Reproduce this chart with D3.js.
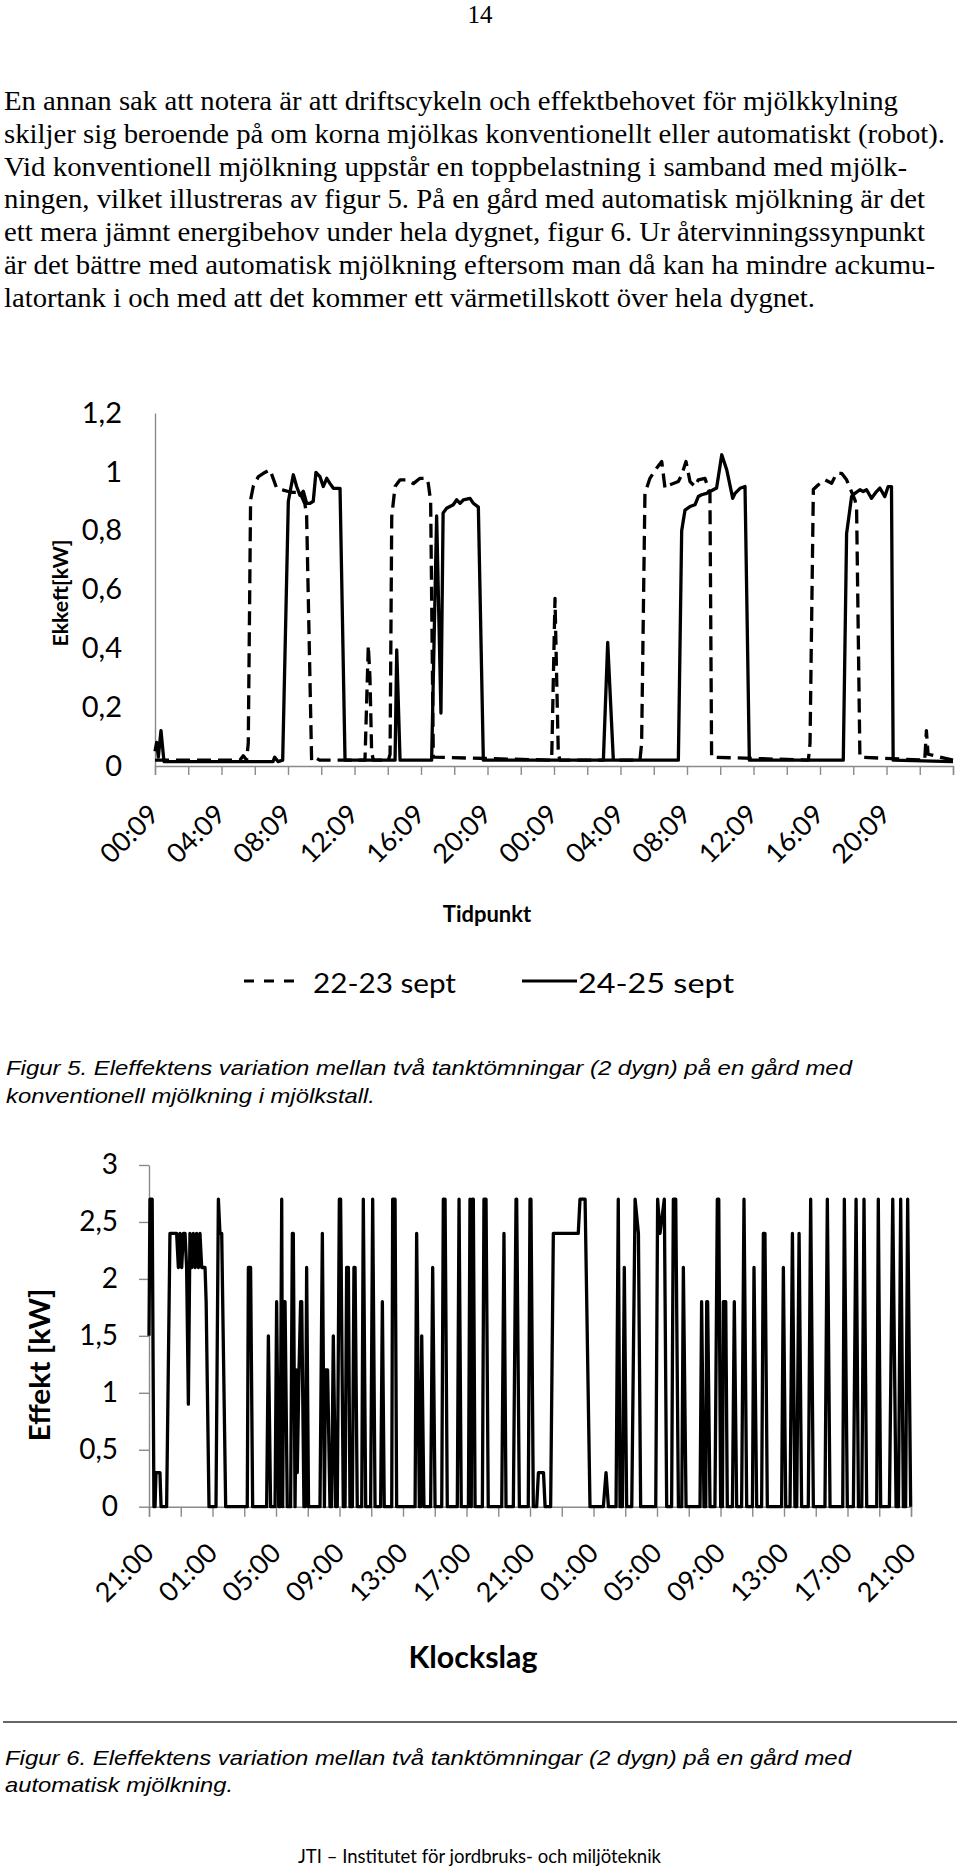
<!DOCTYPE html>
<html>
<head>
<meta charset="utf-8">
<script src="https://cdn.jsdelivr.net/npm/d3@7"></script>
<style>
  body { margin: 0; background: #fff; }
  svg { display: block; }
  .serif { font-family: 'Liberation Serif', 'Times New Roman', serif; }
  .cap { font-family: 'Liberation Sans', Arial, sans-serif; font-style: italic; }
  .calib { font-family: Lato, 'Open Sans', sans-serif; }
</style>
</head>
<body>
<svg id="page" width="960" height="1869"></svg>
<script>
// ---- text of the page ----
const bodyLines = [
  'En annan sak att notera är att driftscykeln och effektbehovet för mjölkkylning',
  'skiljer sig beroende på om korna mjölkas konventionellt eller automatiskt (robot).',
  'Vid konventionell mjölkning uppstår en toppbelastning i samband med mjölk-',
  'ningen, vilket illustreras av figur 5. På en gård med automatisk mjölkning är det',
  'ett mera jämnt energibehov under hela dygnet, figur 6. Ur återvinningssynpunkt',
  'är det bättre med automatisk mjölkning eftersom man då kan ha mindre ackumu-',
  'latortank i och med att det kommer ett värmetillskott över hela dygnet.'
];
const caption5 = ['Figur 5. Eleffektens variation mellan två tanktömningar (2 dygn) på en gård med',
                  'konventionell mjölkning i mjölkstall.'];
const caption6 = ['Figur 6. Eleffektens variation mellan två tanktömningar (2 dygn) på en gård med',
                  'automatisk mjölkning.'];

// ---- figur 5: hours after 00:09, kW ----
const fig5Labels = ['00:09', '04:09', '08:09', '12:09', '16:09', '20:09',
                    '00:09', '04:09', '08:09', '12:09', '16:09', '20:09'];
const fig5YTicks = [0, 0.2, 0.4, 0.6, 0.8, 1, 1.2];
const fig5Series = ['22-23 sept', '24-25 sept'];

const sept2223 = [
  [0, 0.02], [5.11, 0.02], [5.31, 0.035], [5.51, 0.02], [5.61, 0.077], [5.75, 0.905], [5.91, 0.95],
  [6.22, 0.984], [6.52, 0.995], [6.92, 1.007], [7.32, 0.944], [7.72, 0.938], [8.02, 0.933], [8.32, 0.93],
  [8.72, 0.93], [9.02, 0.89], [9.12, 0.85], [9.42, 0.02], [9.6, 0.03], [9.9, 0.02],
  [12.63, 0.02], [12.83, 0.41], [12.93, 0.3], [13.03, 0.05], [13.13, 0.02],
  [14.04, 0.02], [14.14, 0.04], [14.24, 0.848], [14.44, 0.95], [14.74, 0.973], [15.14, 0.973],
  [15.54, 0.96], [15.94, 0.978], [16.34, 0.978], [16.44, 0.96], [16.58, 0.9], [16.74, 0.03],
  [23.86, 0.02], [24.06, 0.57], [24.16, 0.3], [24.26, 0.04], [24.36, 0.02],
  [29.17, 0.02], [29.27, 0.077], [29.47, 0.927], [29.77, 0.978], [30.17, 1.012], [30.48, 1.035],
  [30.68, 0.944], [30.98, 0.956], [31.48, 0.967], [31.68, 0.99], [31.94, 1.035], [32.18, 0.967],
  [32.48, 0.95], [32.68, 0.973], [33.08, 0.978], [33.38, 0.927], [33.48, 0.03],
  [39.3, 0.02], [39.4, 0.077], [39.6, 0.94], [39.9, 0.956], [40.3, 0.973], [40.7, 0.961],
  [41.0, 0.995], [41.3, 0.995], [41.6, 0.973], [42.1, 0.905], [42.2, 0.88], [42.4, 0.03],
  [46.3, 0.02], [46.4, 0.12], [46.5, 0.04], [48, 0.02]
];

const sept2425 = [
  [0, 0.05], [0.1, 0.08], [0.2, 0.03], [0.36, 0.12], [0.54, 0.015], [7.1, 0.015], [7.2, 0.03],
  [7.4, 0.015], [7.68, 0.02], [8.02, 0.9], [8.32, 0.99], [8.52, 0.95], [8.72, 0.92], [8.92, 0.934],
  [9.12, 0.893], [9.32, 0.893], [9.52, 0.9], [9.68, 0.998], [9.92, 0.984], [10.12, 0.95],
  [10.33, 0.978], [10.53, 0.96], [10.73, 0.944], [11.13, 0.944], [11.43, 0.02],
  [14.44, 0.02], [14.54, 0.395], [14.74, 0.02],
  [16.64, 0.02], [16.94, 0.85], [17.2, 0.18], [17.33, 0.86], [17.54, 0.876], [17.94, 0.888],
  [18.15, 0.905], [18.35, 0.893], [18.55, 0.905], [18.95, 0.91], [19.15, 0.893], [19.45, 0.88], [19.75, 0.02],
  [26.97, 0.02], [27.23, 0.42], [27.57, 0.02],
  [31.48, 0.02], [31.68, 0.8], [31.88, 0.87], [32.18, 0.882], [32.48, 0.888], [32.68, 0.916],
  [32.88, 0.922], [33.18, 0.927], [33.58, 0.939], [33.78, 0.945], [34.09, 1.058], [34.39, 1.007],
  [34.75, 0.91], [34.89, 0.927], [35.19, 0.944], [35.49, 0.95], [35.75, 0.02],
  [41.4, 0.02], [41.6, 0.79], [41.9, 0.916], [42.1, 0.927], [42.4, 0.939], [42.6, 0.933], [42.8, 0.939],
  [43.1, 0.91], [43.4, 0.933], [43.6, 0.945], [43.9, 0.916], [44.1, 0.95], [44.3, 0.95], [44.4, 0.02],
  [48, 0.015]
];

// ---- figur 6: hours after 21:00, kW ----
const fig6Labels = ['21:00', '01:00', '05:00', '09:00', '13:00', '17:00', '21:00',
                    '01:00', '05:00', '09:00', '13:00', '17:00', '21:00'];
const fig6YTicks = [0, 0.5, 1, 1.5, 2, 2.5, 3];

const robot = [
  [0, 1.5], [0.06, 2.7], [0.2, 2.7], [0.31, 0], [0.38, 0], [0.44, 0.3], [0.69, 0.3], [0.76, 0],
  [1.11, 0], [1.32, 2.4], [1.74, 2.4], [1.85, 2.1], [1.95, 2.4], [2.06, 2.1], [2.16, 2.4], [2.27, 2.4],
  [2.37, 2.1], [2.48, 0.9], [2.58, 2.4], [2.69, 2.1], [2.79, 2.4], [2.9, 2.1], [3.0, 2.4], [3.11, 2.1],
  [3.21, 2.4], [3.32, 2.1], [3.53, 2.1], [3.6, 1.8], [3.78, 0],
  [4.22, 0], [4.37, 2.7], [4.47, 2.4], [4.58, 2.4], [4.83, 0],
  [6.19, 0], [6.26, 2.1], [6.4, 2.1], [6.53, 0],
  [7.41, 0], [7.52, 1.5], [7.66, 0], [7.94, 0], [8.04, 1.8], [8.17, 0], [8.25, 0], [8.36, 2.7], [8.42, 0],
  [8.5, 1.8], [8.57, 1.8], [8.71, 0], [8.92, 0], [9.03, 2.4], [9.09, 2.4], [9.2, 0], [9.28, 1.2],
  [9.34, 0.3], [9.45, 1.2], [9.55, 1.8], [9.62, 1.8], [9.76, 0], [9.85, 0], [9.93, 2.1], [10.05, 0],
  [10.77, 0], [10.92, 2.4], [11.05, 0], [11.12, 1.2], [11.25, 1.2], [11.4, 0], [11.5, 0],
  [11.61, 1.5], [11.76, 0], [11.86, 0], [11.99, 2.7], [12.07, 2.7], [12.24, 0], [12.35, 0],
  [12.45, 2.1], [12.56, 2.1], [12.66, 0], [12.81, 0], [12.91, 2.1], [12.98, 2.1], [13.12, 0],
  [13.4, 0], [13.5, 2.7], [13.65, 0], [13.96, 0], [14.09, 2.7], [14.24, 0], [14.59, 0], [14.7, 1.8],
  [14.82, 0], [15.29, 0], [15.35, 2.7], [15.5, 2.7], [15.6, 0],
  [16.76, 0], [16.86, 2.4], [17.03, 0], [17.11, 0], [17.18, 1.5], [17.32, 0], [17.74, 0], [17.87, 2.1],
  [18.02, 0], [18.44, 0], [18.54, 2.7], [18.65, 2.7], [18.79, 0], [19.42, 0], [19.53, 2.7], [19.67, 0],
  [20.12, 0], [20.22, 2.7], [20.3, 0], [20.36, 2.7], [20.43, 2.7], [20.54, 0],
  [21.0, 0], [21.1, 2.7], [21.23, 2.7], [21.37, 0], [22.22, 0], [22.36, 2.4], [22.49, 0],
  [22.95, 0], [23.12, 2.7], [23.16, 2.7], [23.33, 0], [23.89, 0], [24.0, 2.7], [24.06, 2.7], [24.21, 0],
  [24.42, 0], [24.53, 0.3], [24.85, 0.3], [24.95, 0], [25.3, 0], [25.47, 2.4], [27.04, 2.4],
  [27.15, 2.7], [27.47, 2.7], [27.78, 0],
  [28.62, 0], [28.79, 0.3], [28.94, 0], [29.42, 0], [29.56, 2.7], [29.67, 0], [29.82, 0], [29.94, 2.1],
  [30.09, 0], [30.41, 0], [30.62, 2.7], [30.83, 2.4], [30.97, 0],
  [31.92, 0], [32.04, 2.7], [32.19, 2.4], [32.46, 2.7], [32.61, 0], [32.92, 0], [33.03, 2.7],
  [33.18, 2.7], [33.35, 0], [33.56, 0], [33.66, 2.1], [33.83, 0],
  [34.71, 0], [34.81, 1.8], [34.96, 0], [35.07, 0], [35.13, 1.8], [35.19, 1.8], [35.34, 0],
  [35.65, 0], [35.8, 2.7], [35.89, 2.7], [36.01, 0], [36.12, 0], [36.18, 1.8], [36.33, 1.8], [36.43, 0],
  [36.75, 0], [36.87, 1.8], [37.02, 0], [37.33, 0], [37.48, 2.7], [37.65, 0],
  [38.01, 0], [38.11, 2.1], [38.28, 0], [38.59, 0], [38.7, 2.4], [38.8, 2.4], [38.95, 0],
  [39.85, 0], [39.96, 2.1], [40.11, 0], [40.38, 0], [40.53, 2.4], [40.69, 0], [40.8, 0], [40.95, 2.4],
  [41.11, 0], [41.53, 0], [41.68, 2.7], [41.85, 0], [42.58, 0], [42.73, 2.7], [42.9, 0],
  [43.7, 0], [43.8, 2.7], [43.99, 0], [44.37, 0], [44.54, 2.7], [44.69, 0], [44.9, 0], [45.04, 2.7],
  [45.21, 0], [45.84, 0], [45.94, 2.7], [46.09, 0], [46.64, 0], [46.85, 2.7], [47.06, 0],
  [47.21, 0], [47.35, 2.7], [47.52, 0], [47.66, 0], [47.79, 2.7], [47.98, 0]
];

// ---- drawing ----
const svg = d3.select('#page');
const axisGrey = '#8a8a8a';
const sv = d3.formatLocale({ decimal: ',', thousands: ' ', grouping: [3], currency: ['', ' kr'] });
const fmt = sv.format('~g');

// page number + body text
svg.append('text').attr('class', 'serif').attr('x', 480).attr('y', 23)
  .attr('text-anchor', 'middle').attr('font-size', 25).text('14');

const bodyEnds = [898, 945, 907, 925, 925, 935, 815];
bodyLines.forEach((line, i) => {
  svg.append('text').attr('class', 'serif')
    .attr('x', 4).attr('y', 110 + i * 32.8)
    .attr('font-size', 26.5)
    .attr('textLength', bodyEnds[i] - 4).attr('lengthAdjust', 'spacingAndGlyphs')
    .text(line);
});

const styleAxis = (g) => {
  g.selectAll('.domain').attr('stroke', axisGrey).attr('stroke-width', 1.4);
  g.selectAll('.tick line').attr('stroke', axisGrey).attr('stroke-width', 1.4);
  g.selectAll('text').attr('class', 'calib').attr('fill', '#000');
};

const drawChart = (o) => {
  let x = d3.scaleLinear().domain([0, 48]).range([o.left, o.right]);
  let y = d3.scaleLinear().domain(o.yDomain).range([o.bottom, o.top]);

  let ya = svg.append('g').attr('transform', `translate(${o.left},0)`)
    .call(d3.axisLeft(y).tickValues(o.yTicks).tickFormat(fmt)
      .tickSize(o.yTickSize).tickSizeOuter(0).tickPadding(o.yPad));
  styleAxis(ya);
  ya.selectAll('text').attr('font-size', o.yFont);

  let xa = svg.append('g').attr('transform', `translate(0,${o.bottom})`)
    .call(d3.axisBottom(x).tickValues(d3.range(0, 49, 2)).tickSizeOuter(0).tickSize(o.xTickSize)
      .tickFormat(d => (d % 4 === 0 && o.labels[d / 4]) ? o.labels[d / 4] : ''));
  styleAxis(xa);
  xa.selectAll('text')
    .attr('font-size', o.xFont)
    .attr('x', 0).attr('y', 0).attr('dy', 0)
    .attr('text-anchor', 'end')
    .attr('transform', `translate(${o.labelDx},${o.labelDy}) rotate(-45)`);

  let line = d3.line().x(d => x(d[0])).y(d => y(d[1]));
  o.series.forEach(s => {
    svg.append('path').datum(s.data)
      .attr('d', line)
      .attr('fill', 'none')
      .attr('stroke', '#000')
      .attr('stroke-width', o.lineWidth)
      .attr('stroke-linejoin', 'round')
      .attr('stroke-dasharray', s.dash || null);
  });
};

// figur 5
drawChart({
  left: 155, right: 953, top: 413, bottom: 766,
  yDomain: [0, 1.2], yTicks: fig5YTicks, yTickSize: 0, yPad: 33, yFont: 29,
  xTickSize: 9, labels: fig5Labels, labelDx: 5, labelDy: 50, xFont: 27,
  lineWidth: 3.3,
  series: [{ data: sept2223, dash: '14,7' }, { data: sept2425 }]
});

svg.append('text').attr('class', 'calib').attr('font-weight', 'bold')
  .attr('transform', 'translate(68,593) rotate(-90)').attr('text-anchor', 'middle')
  .attr('font-size', 20).attr('textLength', 107).attr('lengthAdjust', 'spacingAndGlyphs')
  .text('Ekkeft[kW]');
svg.append('text').attr('class', 'calib').attr('font-weight', 'bold')
  .attr('x', 487).attr('y', 922).attr('text-anchor', 'middle').attr('font-size', 22)
  .text('Tidpunkt');

// legend
let lg = svg.append('g');
lg.append('line').attr('x1', 244).attr('x2', 304).attr('y1', 981).attr('y2', 981)
  .attr('stroke', '#000').attr('stroke-width', 3).attr('stroke-dasharray', '10,10');
lg.append('text').attr('class', 'calib').attr('x', 313).attr('y', 993).attr('font-size', 27)
  .attr('textLength', 143).attr('lengthAdjust', 'spacingAndGlyphs').text(fig5Series[0]);
lg.append('line').attr('x1', 522).attr('x2', 577).attr('y1', 981).attr('y2', 981)
  .attr('stroke', '#000').attr('stroke-width', 3);
lg.append('text').attr('class', 'calib').attr('x', 578).attr('y', 993).attr('font-size', 27)
  .attr('textLength', 156).attr('lengthAdjust', 'spacingAndGlyphs').text(fig5Series[1]);

// caption 5
caption5.forEach((t, i) => {
  svg.append('text').attr('class', 'cap').attr('x', 6).attr('y', 1075 + i * 27.5)
    .attr('font-size', 21)
    .attr('textLength', i === 0 ? 846 : 369).attr('lengthAdjust', 'spacingAndGlyphs')
    .text(t);
});

// figur 6
drawChart({
  left: 149, right: 911, top: 1165, bottom: 1506.7,
  yDomain: [0, 3], yTicks: fig6YTicks, yTickSize: 10, yPad: 21, yFont: 28,
  xTickSize: 10, labels: fig6Labels, labelDx: 6, labelDy: 48, xFont: 27,
  lineWidth: 3.3,
  series: [{ data: robot }]
});

svg.append('text').attr('class', 'calib').attr('font-weight', 'bold')
  .attr('transform', 'translate(50,1365) rotate(-90)').attr('text-anchor', 'middle')
  .attr('font-size', 29).attr('textLength', 153).attr('lengthAdjust', 'spacingAndGlyphs')
  .text('Effekt [kW]');
svg.append('text').attr('class', 'calib').attr('font-weight', 'bold')
  .attr('x', 473).attr('y', 1668).attr('text-anchor', 'middle').attr('font-size', 30)
  .attr('textLength', 129).attr('lengthAdjust', 'spacingAndGlyphs')
  .text('Klockslag');

svg.append('line').attr('x1', 3).attr('x2', 957).attr('y1', 1722).attr('y2', 1722)
  .attr('stroke', '#333').attr('stroke-width', 1.5);

caption6.forEach((t, i) => {
  svg.append('text').attr('class', 'cap').attr('x', 5).attr('y', 1765 + i * 27)
    .attr('font-size', 21)
    .attr('textLength', i === 0 ? 846 : 228).attr('lengthAdjust', 'spacingAndGlyphs')
    .text(t);
});

svg.append('text').attr('class', 'calib').attr('x', 298).attr('y', 1863).attr('font-size', 20)
  .attr('textLength', 363).attr('lengthAdjust', 'spacingAndGlyphs')
  .text('JTI – Institutet för jordbruks- och miljöteknik');
</script>
</body>
</html>
